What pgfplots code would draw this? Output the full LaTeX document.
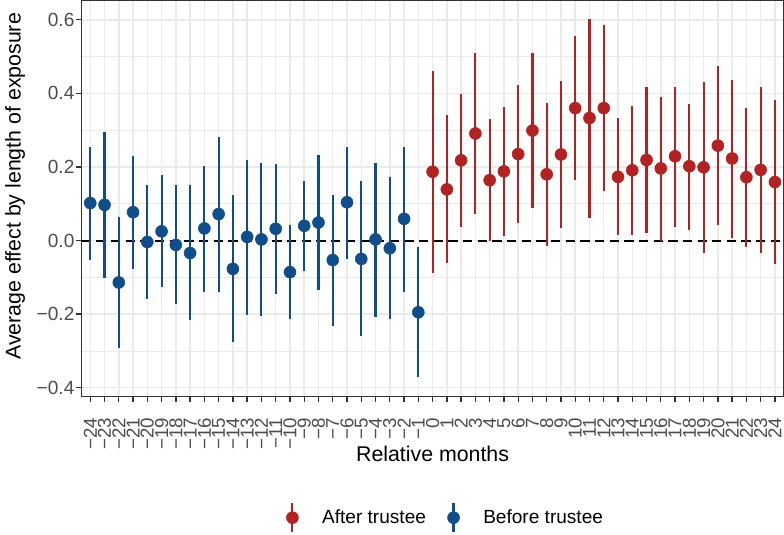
\documentclass[border=0pt]{standalone}
\usepackage{fontspec}
\setmainfont{Liberation Sans}
\usepackage{pgfplots}
\pgfplotsset{compat=1.18}
\usepackage{pgfplotstable}
\definecolor{redc}{RGB}{178,34,34}
\definecolor{bluec}{RGB}{16,78,139}
\definecolor{gridc}{RGB}{235,235,235}
\definecolor{axc}{RGB}{51,51,51}
\definecolor{tickc}{RGB}{77,77,77}

\pgfplotstableread{
x y lo hi
-24 0.102 -0.053 0.253
-23 0.097 -0.101 0.294
-22 -0.114 -0.292 0.065
-21 0.077 -0.076 0.229
-20 -0.004 -0.159 0.152
-19 0.025 -0.126 0.177
-18 -0.012 -0.172 0.151
-17 -0.034 -0.217 0.150
-16 0.033 -0.139 0.203
-15 0.072 -0.139 0.282
-14 -0.077 -0.277 0.123
-13 0.010 -0.202 0.218
-12 0.003 -0.205 0.212
-11 0.032 -0.145 0.208
-10 -0.086 -0.213 0.041
-9 0.040 -0.084 0.163
-8 0.049 -0.135 0.232
-7 -0.053 -0.231 0.124
-6 0.104 -0.049 0.253
-5 -0.050 -0.259 0.161
-4 0.003 -0.207 0.212
-3 -0.021 -0.214 0.173
-2 0.059 -0.139 0.255
-1 -0.195 -0.371 -0.018
}\before

\pgfplotstableread{
x y lo hi
0 0.187 -0.087 0.460
1 0.139 -0.061 0.340
2 0.218 0.036 0.398
3 0.291 0.073 0.509
4 0.164 0.000 0.330
5 0.188 0.011 0.364
6 0.235 0.047 0.422
7 0.299 0.088 0.509
8 0.180 -0.015 0.374
9 0.234 0.033 0.435
10 0.360 0.164 0.555
11 0.333 0.062 0.603
12 0.360 0.136 0.585
13 0.173 0.015 0.332
14 0.191 0.014 0.366
15 0.219 0.021 0.416
16 0.196 0.000 0.390
17 0.229 0.038 0.418
18 0.202 0.030 0.371
19 0.199 -0.033 0.430
20 0.258 0.042 0.474
21 0.223 0.008 0.437
22 0.172 -0.018 0.360
23 0.192 -0.033 0.416
24 0.159 -0.064 0.382
}\after

\begin{document}
\begin{tikzpicture}
\begin{axis}[
  at={(0,0)}, anchor=south west,
  scale only axis, width=526.5pt, height=297pt,
  xmin=-24.6, xmax=24.6, ymin=-0.424, ymax=0.652,
  axis line style={draw=axc, line width=1.1pt},
  tick align=outside,
  major tick length=4.3pt,
  minor tick length=0pt,
  every tick/.style={draw=axc, line width=1pt},
  xtick={-24,-23,...,24},
  xticklabels={−24,−23,−22,−21,−20,−19,−18,−17,−16,−15,−14,−13,−12,−11,−10,−9,−8,−7,−6,−5,−4,−3,−2,−1,0,1,2,3,4,5,6,7,8,9,10,11,12,13,14,15,16,17,18,19,20,21,22,23,24},
  ytick={-0.4,-0.2,0,0.2,0.4,0.6},
  yticklabels={−0.4,−0.2,0.0,0.2,0.4,0.6},
  minor ytick={-0.3,-0.1,0.1,0.3,0.5},
  xtick pos=bottom, ytick pos=left,
  grid=both,
  major grid style={draw=gridc, line width=1.1pt},
  minor grid style={draw=gridc, line width=0.55pt},
  xticklabel shift=10.5pt,
  xticklabel style={rotate=90, anchor=east, font=\fontsize{14}{16}\selectfont, text=tickc, inner sep=1pt},
  yticklabel style={font=\fontsize{14.3}{16}\selectfont, text=tickc, inner sep=1pt},
  xlabel={Relative months},
  ylabel={Average effect by length of exposure},
  label style={font=\fontsize{16}{19}\selectfont, text=black},
  xlabel style={at={(axis description cs:0.5,-0.1447)}, anchor=center},
  ylabel style={at={(axis description cs:-0.095,0.531)}, anchor=center},
  legend columns=2,
  legend style={draw=none, fill=none, at={(axis description cs:0.519,-0.306)}, anchor=center,
    font=\fontsize{14.3}{16}\selectfont,
    /tikz/every even column/.append style={column sep=14pt}},
  legend image code/.code={
    \path[draw=none, fill=none] (0.3cm-4.5pt,0pt) rectangle (0.3cm+20.3pt,0.1pt);
    \draw[line width=1.6pt] (0.3cm,-11pt) -- (0.3cm,11pt);
    \fill (0.3cm,0pt) circle (4.5pt);
  },
  error bars/error mark=none,
]
\addplot[black, line width=1.5pt, dash pattern=on 7pt off 4pt, forget plot] coordinates {(-24.6,0) (24.6,0)};
\addplot[only marks, mark=*, mark size=4.5pt, color=redc, mark options={draw=redc, fill=redc},
  error bars/.cd, y dir=both, y explicit, error bar style={line width=1.6pt, draw=redc}]
  table[x=x, y=y, y error plus expr=\thisrow{hi}-\thisrow{y}, y error minus expr=\thisrow{y}-\thisrow{lo}] {\after};
\addlegendentry{After trustee}
\addplot[only marks, mark=*, mark size=4.5pt, color=bluec, mark options={draw=bluec, fill=bluec},
  error bars/.cd, y dir=both, y explicit, error bar style={line width=1.6pt, draw=bluec}]
  table[x=x, y=y, y error plus expr=\thisrow{hi}-\thisrow{y}, y error minus expr=\thisrow{y}-\thisrow{lo}] {\before};
\addlegendentry{Before trustee}
\end{axis}
\pgfresetboundingbox
\path (-61.3pt,-103.7pt) rectangle (526.9pt,297.5pt);
\end{tikzpicture}
\end{document}
